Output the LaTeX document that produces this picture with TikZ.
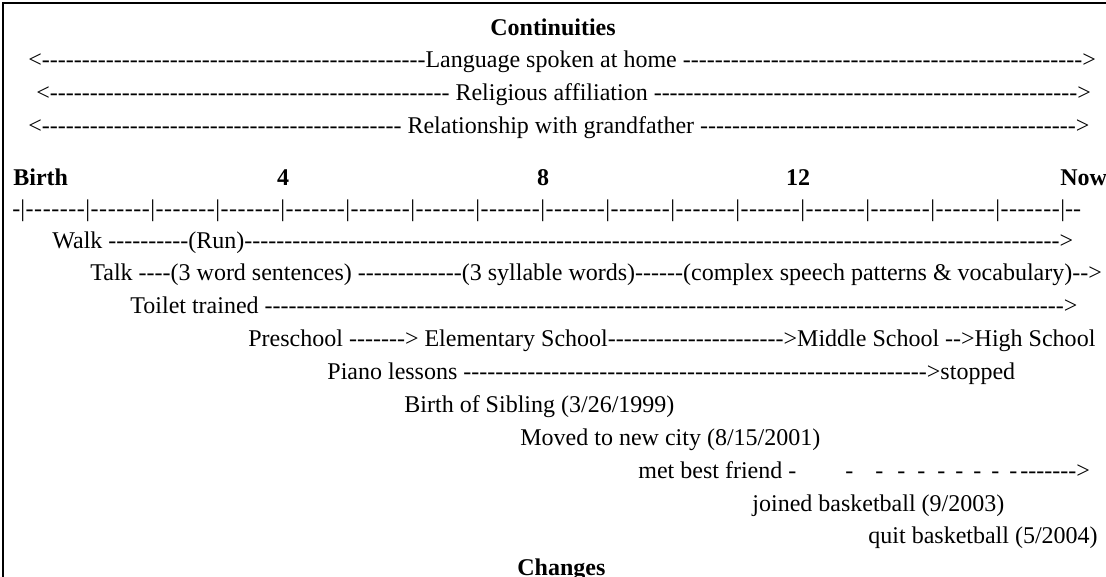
\documentclass[tikz,border=0pt]{standalone}
\usepackage{fontspec}
\setmainfont{Liberation Serif}[Ligatures=TeXOff]
\newcount\hycnt
\newcommand\hy[1]{\hycnt=0\relax\loop\ifnum\hycnt<#1\relax-\advance\hycnt by 1\relax\repeat}
\newcommand\tickseg{\makebox[32.5pt][s]{|\hfil-\hfil-\hfil-\hfil-\hfil-\hfil-\hfil-\hfil}}
\tikzset{
  txt/.style={anchor=base west, inner sep=0pt, font=\fontsize{12pt}{14pt}\selectfont},
  btxt/.style={txt, font=\fontsize{12pt}{14pt}\selectfont\bfseries},
  frame/.style={line width=1pt}
}
\begin{document}
\begin{tikzpicture}[x=0.5pt,y=-0.5pt]
\useasboundingbox (0,0) rectangle (1106,577);
\draw[frame] (3,577) -- (3,3) -- (1106,3);
% Continuities
\node[btxt, anchor=base] (cont) at (553,36) {Continuities};
\node[txt] (lang) at (28,68) {<\hy{48}Language spoken at home \hy{50}>};
\node[txt] (relig) at (36,101) {<\hy{50} Religious affiliation \hy{53}>};
\node[txt] (grand) at (28,134) {<\hy{45} Relationship with grandfather \hy{47}>};
% Age scale
\node[btxt] (birth) at (13,185) {Birth};
\node[btxt, anchor=base] (y4) at (283,185) {4};
\node[btxt, anchor=base] (y8) at (543,185) {8};
\node[btxt, anchor=base] (y12) at (798,185) {12};
\node[btxt] (now) at (1060,185) {Now};
\node[txt] (ticks) at (12,216) {-\tickseg\tickseg\tickseg\tickseg\tickseg\tickseg\tickseg\tickseg\tickseg\tickseg\tickseg\tickseg\tickseg\tickseg\tickseg\tickseg|--};
% Changes
\node[txt] (walk) at (52,248) {Walk \hy{10}(Run)\hy{102}>};
\node[txt] (talk) at (90,280) {Talk \hy{4}(3 word sentences) \hy{13}(3 syllable words)\hy{6}(complex speech patterns \& vocabulary)\hy{2}>};
\node[txt] (toilet) at (130,313) {Toilet trained \hy{100}>};
\node[txt] (school) at (248,346) {Preschool \hy{7}> Elementary School\hy{22}>Middle School \hy{2}>High School};
\node[txt] (piano) at (327,379) {Piano lessons \hy{58}>stopped};
\node[txt] (sibling) at (404,412) {Birth of Sibling (3/26/1999)};
\node[txt] (moved) at (520,445) {Moved to new city (8/15/2001)};
\node[txt] (friend) at (638,478) {met best friend -\hspace{24.5pt}-\hspace{11pt}-\hspace{7pt}-\hspace{6pt}-\hspace{6pt}-\hspace{5pt}-\hspace{5pt}-\hspace{5pt}-\hspace{5pt}-\hspace{1.5pt}\hy{7}>};
\node[txt] (joined) at (752,511) {joined basketball (9/2003)};
\node[txt] (quit) at (868,543) {quit basketball (5/2004)};
\node[btxt] (changes) at (517,575) {Changes};
\end{tikzpicture}
\end{document}
